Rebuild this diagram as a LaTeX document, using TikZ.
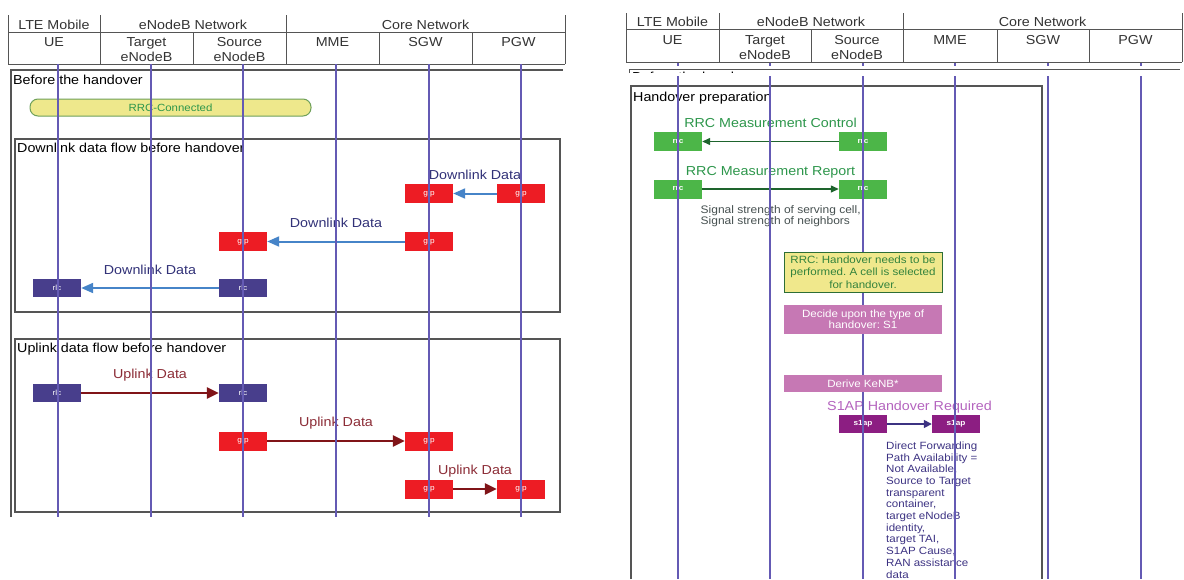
\documentclass[tikz,border=0pt]{standalone}
\usepackage{fontspec}
\setmainfont{Liberation Sans}[FakeStretch=1.1]
\usepackage{xcolor}
\usepackage{tikz}
\usetikzlibrary{positioning, arrows.meta}
\frenchspacing

\definecolor{framegray}{RGB}{85,85,85}
\definecolor{lifeblue}{RGB}{100,90,180}
\definecolor{gtpred}{RGB}{237,28,36}
\definecolor{rlcblue}{RGB}{72,62,140}
\definecolor{dlblue}{RGB}{70,132,200}
\definecolor{dltext}{RGB}{50,50,120}
\definecolor{ulred}{RGB}{128,20,24}
\definecolor{ultext}{RGB}{140,45,55}
\definecolor{rrcgreen}{RGB}{76,182,72}
\definecolor{rrcdark}{RGB}{30,100,45}
\definecolor{rrctext}{RGB}{45,150,75}
\definecolor{noteyellow}{RGB}{240,232,140}
\definecolor{noteedge}{RGB}{45,110,55}
\definecolor{notetext}{RGB}{50,130,60}
\definecolor{actmauve}{RGB}{198,120,180}
\definecolor{s1appurple}{RGB}{140,30,130}
\definecolor{s1aptext}{RGB}{180,100,190}
\definecolor{ietext}{RGB}{60,50,130}
\definecolor{sigtext}{RGB}{70,80,80}
\definecolor{barfill}{RGB}{238,232,140}
\definecolor{baredge}{RGB}{110,160,90}

\newcommand{\fs}[2]{\fontsize{#1}{#2}\selectfont}

\tikzset{
  boxline/.style={draw=framegray, line width=1.2pt},
  hdrline/.style={draw=framegray, line width=1pt},
  lifeline/.style={draw=lifeblue, line width=1.1pt},
  hdrtxt/.style={font=\fs{13}{15}, anchor=north, inner sep=0pt, align=center, text=black!80},
  sectitle/.style={font=\fs{13}{15}, anchor=base west, inner sep=0pt},
  pdu/.style={minimum width=48pt, minimum height=19pt, inner sep=0pt, text=white, font=\fs{7.5}{8}},
  gtp/.style={pdu, fill=gtpred},
  rlc/.style={pdu, fill=rlcblue, minimum height=17.5pt},
  rrc/.style={pdu, fill=rrcgreen, font=\bfseries\fs{7.5}{8}},
  s1ap/.style={pdu, fill=s1appurple, minimum height=18pt, font=\bfseries\fs{7.5}{8}},
  msg/.style={font=\fs{13}{15}, inner sep=0pt, text height=9.4pt, text depth=0pt, midway, above=13pt},
  dl/.style={draw=dlblue, line width=2pt, -{Triangle[length=12pt,width=10pt]}},
  ul/.style={draw=ulred, line width=2.5pt, -{Triangle[length=12pt,width=11pt]}},
  rrcmsg/.style={draw=rrcdark, line width=1.3pt, -{Triangle[length=8pt,width=7pt]}},
  s1msg/.style={draw=ietext, line width=1.5pt, -{Triangle[length=8pt,width=8pt]}},
  bar/.style={draw=baredge, fill=barfill, line width=1pt, rounded corners=8pt, minimum width=281pt, minimum height=17pt, inner sep=0pt, text=rrctext, font=\fs{10.4}{12}},
  note/.style={draw=noteedge, fill=noteyellow, line width=1pt, text=notetext, minimum width=158pt, minimum height=40pt, inner sep=0pt, align=center, font=\fs{10.5}{12.3}},
  action/.style={fill=actmauve, text=white, minimum width=158pt, minimum height=29pt, inner sep=0pt, align=center, font=\fs{10.5}{11.7}}
}

\begin{document}
\begin{tikzpicture}[x=1pt,y=-1pt]
    \useasboundingbox (0,0) rectangle (1184,579);

    \foreach \x in {8,100,286,565} \draw[hdrline] (\x,15) -- (\x,64);
    \foreach \x in {193,379,472} \draw[hdrline] (\x,32) -- (\x,64);
    \draw[hdrline] (8,32) -- (565,32) (8,64) -- (565,64);
    \foreach \n/\x/\t in {lmob/54/LTE Mobile,lenb/193/eNodeB Network,lcore/425.5/Core Network}
        \node[hdrtxt] (\n) at (\x,19.5) {\t};
    \foreach \n/\x/\t in {lue/54/UE,ltgt/146.5/Target\\eNodeB,lsrc/239.5/Source\\eNodeB,lmme/332.5/MME,lsgw/425.5/SGW,lpgw/518.5/PGW}
        \node[hdrtxt] (\n) at (\x,37) {\t};

    \draw[boxline] (11,517) -- (11,70) -- (563,70);
    \node[sectitle] (before) at (13,84) {Before the handover};
    \node[bar] (conn) at (170.5,107.5) {RRC-Connected};

    \draw[boxline] (15,139) rectangle (560,312);
    \node[sectitle] (dltitle) at (17,152) {Downlink data flow before handover};
    \node[gtp] (dlpgw) at (521,193.5) {gtp};
    \node[gtp] (dlsgw) at (429,193.5) {gtp};
    \draw[dl] (dlpgw) -- node[msg, text=dltext] {Downlink Data} (dlsgw);
    \node[gtp] (dlsgwb) at (429,241.5) {gtp};
    \node[gtp] (dlsrc) at (243,241.5) {gtp};
    \draw[dl] (dlsgwb) -- node[msg, text=dltext] {Downlink Data} (dlsrc);
    \node[rlc] (dlsrcr) at (243,288) {rlc};
    \node[rlc] (dlue) at (57,288) {rlc};
    \draw[dl] (dlsrcr) -- node[msg, text=dltext] {Downlink Data} (dlue);

    \draw[boxline] (15,339) rectangle (560,512);
    \node[sectitle] (ultitle) at (17,352) {Uplink data flow before handover};
    \node[rlc] (ulue) at (57,393) {rlc};
    \node[rlc] (ulsrcr) at (243,393) {rlc};
    \draw[ul] (ulue) -- node[msg, text=ultext] {Uplink Data} (ulsrcr);
    \node[gtp] (ulsrc) at (243,441) {gtp};
    \node[gtp] (ulsgw) at (429,441) {gtp};
    \draw[ul] (ulsrc) -- node[msg, text=ultext] {Uplink Data} (ulsgw);
    \node[gtp] (ulsgwb) at (429,489) {gtp};
    \node[gtp] (ulpgw) at (521,489) {gtp};
    \draw[ul] (ulsgwb) -- node[msg, text=ultext] {Uplink Data} (ulpgw);

    \foreach \x in {58,151,243,336,429,521} \draw[lifeline] (\x,64) -- (\x,517);

    \foreach \x in {626,719,903,1182} \draw[hdrline] (\x,13) -- (\x,62);
    \foreach \x in {811,997,1089} \draw[hdrline] (\x,29) -- (\x,62);
    \draw[hdrline] (626,29) -- (1182,29) (626,62) -- (1182,62);
    \foreach \n/\x/\t in {rmob/672.5/LTE Mobile,renb/811/eNodeB Network,rcore/1042.5/Core Network}
        \node[hdrtxt] (\n) at (\x,17) {\t};
    \foreach \n/\x/\t in {rue/672.5/UE,rtgt/765/Target\\eNodeB,rsrc/857/Source\\eNodeB,rmme/950/MME,rsgw/1043/SGW,rpgw/1135.5/PGW}
        \node[hdrtxt] (\n) at (\x,35) {\t};

    \draw[hdrline] (629,73) -- (629,69) -- (1180,69);
    \begin{scope}
        \clip (626,69) rectangle (1184,72.5);
        \node[sectitle] (beforecut) at (632,81) {Before the handover};
    \end{scope}

    \draw[boxline, line width=1.5pt] (631,579) -- (631,86) -- (1042,86) -- (1042,579);
    \node[sectitle] (prep) at (633,101.5) {Handover preparation};

    \node[rrc] (ctlue) at (678,141.5) {rrc};
    \node[rrc] (ctlsrc) at (863,141.5) {rrc};
    \draw[rrcmsg] (ctlsrc) -- node[msg, text=rrctext] {RRC Measurement Control} (ctlue);
    \node[rrc] (repue) at (678,189) {rrc};
    \node[rrc] (repsrc) at (863,189) {rrc};
    \draw[rrcmsg] (repue) -- node[msg, text=rrctext] {RRC Measurement Report} (repsrc);
    \node[anchor=north west, align=left, inner sep=0pt, text=sigtext, font=\fs{10.9}{11}] (meas) at (700.5,205.5)
        {Signal strength of serving cell,\\Signal strength of neighbors};

    \node[s1ap] (reqsrc) at (863,424) {s1ap};
    \node[s1ap] (reqmme) at (956,424) {s1ap};
    \draw[s1msg] (reqsrc) -- node[msg, text=s1aptext] {S1AP Handover Required} (reqmme);
    \node[anchor=north west, align=left, inner sep=0pt, text=ietext, font=\fs{10.5}{11.7}] (ies) at (886,441.5)
        {Direct Forwarding\\Path Availability =\\Not Available,\\Source to Target\\transparent\\container,\\target eNodeB\\identity,\\target TAI,\\S1AP Cause,\\RAN assistance\\data};

    \foreach \x in {678,770,863,955,1048,1141} {
        \draw[lifeline] (\x,63) -- (\x,66);
        \draw[lifeline] (\x,76) -- (\x,579);
    }

    \node[note] (select) at (863,272) {RRC: Handover needs to be\\performed. A cell is selected\\for handover.};
    \node[action, below=12pt of select] (hotype) {Decide upon the type of\\handover: S1};
    \node[action, minimum height=17.5pt, below=40.5pt of hotype] (kenb) {Derive KeNB*};
\end{tikzpicture}
\end{document}
